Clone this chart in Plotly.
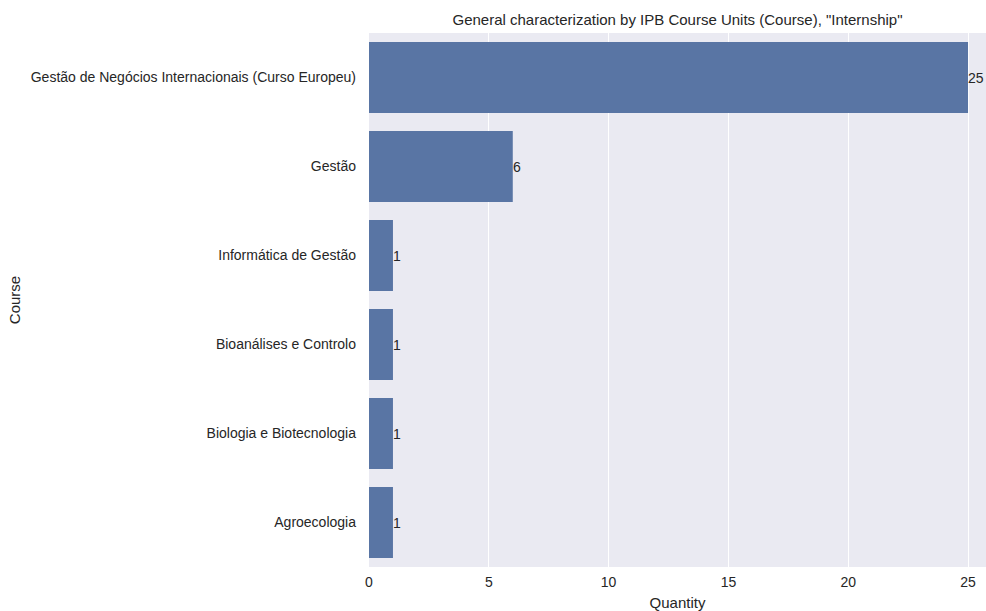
import plotly.graph_objects as go

courses = [
    "Gestão de Negócios Internacionais (Curso Europeu)",
    "Gestão",
    "Informática de Gestão",
    "Bioanálises e Controlo",
    "Biologia e Biotecnologia",
    "Agroecologia",
]
quantities = [25, 6, 1, 1, 1, 1]
x_ticks = [0, 5, 10, 15, 20, 25]

FONT = "Liberation Sans, Arial, sans-serif"
TXT = "#262626"

W, H = 986, 611
L, T, B = 369, 33, 44

fig = go.Figure()
fig.add_trace(go.Bar(
    x=quantities,
    y=courses,
    orientation="h",
    width=0.8,
    marker=dict(color="#5975A4", line=dict(color="#5975A4", width=0)),
    showlegend=False,
))

for c, q in zip(courses, quantities):
    fig.add_annotation(
        x=q, y=c, text=str(q), showarrow=False,
        xanchor="left", yanchor="middle", xshift=-2,
        font=dict(family=FONT, size=14, color=TXT),
    )

fig.update_layout(
    width=W, height=H,
    margin=dict(l=L, r=0, t=T, b=B),
    paper_bgcolor="white",
    plot_bgcolor="#EAEAF2",
    font=dict(family=FONT, size=14, color=TXT),
    title=dict(
        text='General characterization by IPB Course Units (Course), "Internship"',
        x=(L + W) / 2 / W, xanchor="center",
        y=1 - 20 / H, yanchor="middle",
        font=dict(family=FONT, size=15, color=TXT),
    ),
    bargap=0.2,
)
fig.update_xaxes(
    range=[0, 25.75],
    tickvals=x_ticks,
    showgrid=True, gridcolor="white", gridwidth=1,
    zeroline=False, showline=False, ticks="",
    ticklabelstandoff=5,
    tickfont=dict(family=FONT, size=14, color=TXT),
    title=dict(text="Quantity", standoff=9, font=dict(family=FONT, size=15, color=TXT)),
)
fig.update_yaxes(
    categoryorder="array", categoryarray=courses,
    autorange="reversed",
    showgrid=False, zeroline=False, showline=False, ticks="",
    ticklabelstandoff=12,
    tickfont=dict(family=FONT, size=14, color=TXT),
    title=dict(text="Course", standoff=6, font=dict(family=FONT, size=15, color=TXT)),
)

fig.write_html(
    "out.html",
    config={"displayModeBar": False},
    post_script="document.body.style.margin='0';document.body.style.overflow='hidden';",
)
